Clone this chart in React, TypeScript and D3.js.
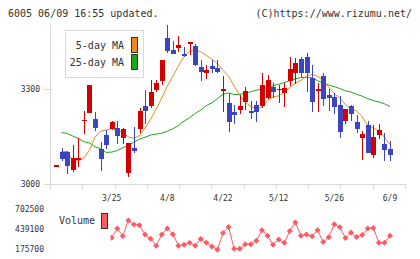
import * as d3 from 'd3';

const W = 420;
const H = 259;

// daily OHLC, one entry per trading day (index 0 .. 60)
const open = [
  3058, 3100, 3100, 3043, 3076, 3197, 3224, 3204, 3110, 3154,
  3174, 3176, 3145, 3035, 3113, 3173, 3245, 3245, 3296, 3324,
  3460, 3422, 3429, 3410, 3441, 3435, 3368, 3349, 3372, 3367,
  3296, 3254, 3226, 3234, 3259, 3230, 3249, 3245, 3272, 3306,
  3298, 3287, 3325, 3349, 3394, 3400, 3333, 3296, 3340, 3280,
  3275, 3249, 3199, 3245, 3195, 3145, 3185, 3091, 3154, 3125,
  3110,
];
const high = [
  3058, 3113, 3102, 3122, 3144, 3231, 3312, 3226, 3133, 3170,
  3199, 3200, 3177, 3130, 3178, 3241, 3296, 3327, 3327, 3391,
  3501, 3451, 3466, 3433, 3447, 3443, 3391, 3375, 3391, 3393,
  3340, 3288, 3249, 3282, 3307, 3261, 3261, 3350, 3343, 3320,
  3312, 3319, 3401, 3398, 3401, 3414, 3375, 3318, 3351, 3301,
  3287, 3277, 3236, 3249, 3217, 3166, 3198, 3185, 3189, 3160,
  3136,
];
const low = [
  3058, 3073, 3032, 3038, 3053, 3158, 3224, 3167, 3041, 3110,
  3170, 3127, 3125, 3022, 3098, 3159, 3190, 3238, 3291, 3312,
  3414, 3410, 3417, 3401, 3406, 3372, 3324, 3331, 3351, 3349,
  3227, 3164, 3190, 3220, 3234, 3206, 3196, 3239, 3267, 3272,
  3256, 3243, 3309, 3317, 3338, 3291, 3227, 3227, 3247, 3231,
  3219, 3145, 3189, 3199, 3162, 3075, 3096, 3080, 3141, 3073,
  3073,
];
const close = [
  3058, 3078, 3057, 3082, 3082, 3203, 3312, 3177, 3079, 3124,
  3196, 3152, 3173, 3129, 3104, 3230, 3230, 3291, 3319, 3391,
  3420, 3411, 3438, 3405, 3447, 3377, 3354, 3359, 3363, 3353,
  3299, 3196, 3218, 3245, 3293, 3226, 3227, 3312, 3327, 3291,
  3301, 3302, 3364, 3382, 3349, 3349, 3259, 3299, 3268, 3272,
  3243, 3164, 3236, 3220, 3173, 3157, 3098, 3147, 3170, 3106,
  3091,
];

const ma5 = [
  null, 3102, 3102, 3073, 3072, 3081, 3106, 3147, 3166, 3170,
  3174, 3170, 3162, 3148, 3144, 3152, 3176, 3204, 3236, 3271,
  3309, 3340, 3373, 3403, 3419, 3422, 3418, 3406, 3394, 3380,
  3359, 3340, 3309, 3280, 3258, 3244, 3238, 3242, 3263, 3275,
  3278, 3290, 3305, 3318, 3327, 3340, 3346, 3340, 3327, 3305,
  3285, 3271, 3250, 3237, 3230, 3212, 3185, 3176, 3168, 3147,
  3124,
];
const ma25 = [
  null, 3162, 3159, 3151, 3143, 3133, 3129, 3117, 3111, 3099,
  3100, 3105, 3114, 3121, 3132, 3141, 3147, 3154, 3157, 3160,
  3166, 3174, 3184, 3198, 3209, 3222, 3233, 3247, 3256, 3269,
  3283, 3287, 3282, 3283, 3286, 3291, 3296, 3299, 3305, 3310,
  3315, 3320, 3326, 3332, 3336, 3336, 3335, 3326, 3318, 3312,
  3307, 3301, 3294, 3290, 3283, 3277, 3269, 3263, 3259, 3253,
  3244,
];

// volume is shown from 3/25 (index 10) onwards
const VOL_START = 10;
const volume = [
  320200, 441800, 341800, 549900, 495800, 486400, 360800, 306700, 212200, 360800,
  441800, 364800, 212200, 225700, 252700, 212200, 301300, 252700, 202700, 158100,
  382400, 463400, 171600, 171600, 233800, 233800, 279700, 418800, 347300, 225700,
  297300, 252700, 409400, 522900, 347300, 360800, 337800, 418800, 260800, 324300,
  499900, 459400, 314800, 387800, 328300, 355400, 441800, 449900, 252700, 252700,
  347300,
];

const dateLabels = ['3/25', '4/8', '4/22', '5/12', '5/26', '6/9'];
const dateIndex = [10, 20, 30, 40, 50, 60];
const priceTicks = [3000, 3300];
const volTicks = [175700, 439100, 702500];

const UP = '#d40000';
const DOWN = '#3c44c0';
const ORANGE = '#f08a1a';
const GREEN = '#1aa81a';
const VOLC = '#ff5a64';
const AXIS = '#d9d9d9';
const TEXT = '#333';
const MONO = "'DejaVu Sans Mono', 'Liberation Mono', monospace";

export default function App() {
  const x = d3.scaleLinear().domain([0, 60]).range([56, 390]);
  const y = d3.scaleLinear().domain([3000, 3500]).range([183.7, 25.7]);
  const yv = d3.scaleLinear().domain([175700, 702500]).range([248.5, 209]);
  const grid = d3.scaleLinear().domain([0, 11]).range([50, 405]);

  const maLine = d3
    .line<number | null>()
    .defined((d) => d != null)
    .x((_, i) => x(i))
    .y((d) => y(d as number));

  const volLine = d3
    .line<number>()
    .x((_, i) => x(i + VOL_START))
    .y((d) => yv(d));

  const diamond = d3.symbol(d3.symbolSquare, 18)();
  const bw = 5;

  return (
    <svg
      width={W}
      height={H}
      style={{ position: 'fixed', left: 0, top: 0, background: '#fff' }}
      fontFamily={MONO}
    >
      <rect width={W} height={H} fill="#fff" />

      <text x={8} y={17} fontSize={10} fill={TEXT}>6005 06/09 16:55 updated.</text>
      <text x={412} y={17} fontSize={10} fill={TEXT} textAnchor="end">(C)https://www.rizumu.net/</text>

      {/* axes */}
      <g stroke={AXIS} shapeRendering="crispEdges">
        <line x1={50} x2={50} y1={25} y2={189} />
        <line x1={44} x2={406} y1={184} y2={184} />
        {d3.range(12).map((k) => (
          <line key={k} x1={Math.round(grid(k))} x2={Math.round(grid(k))} y1={184} y2={189} />
        ))}
        {priceTicks.map((p) => (
          <line key={p} x1={45} x2={53} y1={Math.round(y(p))} y2={Math.round(y(p))} />
        ))}
      </g>
      {priceTicks.map((p) => (
        <text key={p} x={40} y={y(p) + 3} fontSize={8} fill={TEXT} textAnchor="end">{p}</text>
      ))}
      {dateLabels.map((d, i) => (
        <text key={d} x={x(dateIndex[i])} y={201} fontSize={8} fill={TEXT} textAnchor="middle">{d}</text>
      ))}

      {/* moving averages */}
      <path d={maLine(ma25) ?? ''} fill="none" stroke={GREEN} strokeWidth={1} />
      <path d={maLine(ma5) ?? ''} fill="none" stroke={ORANGE} strokeWidth={1} />

      {/* candles */}
      <g shapeRendering="crispEdges">
        {open.map((o, i) => {
          const c = close[i];
          const col = c >= o ? UP : DOWN;
          const cx = Math.round(x(i));
          const top = y(Math.max(o, c));
          const bot = y(Math.min(o, c));
          return (
            <g key={i}>
              <line x1={cx + 0.5} x2={cx + 0.5} y1={y(high[i])} y2={y(low[i])} stroke={col} />
              <rect x={cx - 2} y={top} width={bw} height={Math.max(1.5, bot - top)} fill={col} />
            </g>
          );
        })}
      </g>

      {/* legend */}
      <rect x={65.5} y={30.5} width={78} height={47} fill="#fff" stroke={AXIS} />
      <text x={124} y={49} fontSize={10} fill={TEXT} textAnchor="end">5-day MA</text>
      <text x={124} y={66} fontSize={10} fill={TEXT} textAnchor="end">25-day MA</text>
      <rect x={131.5} y={37.5} width={6} height={15} fill={ORANGE} stroke="#333" />
      <rect x={131.5} y={54.5} width={6} height={15} fill={GREEN} stroke="#333" />

      {/* volume */}
      {volTicks.map((v) => (
        <text key={v} x={44} y={yv(v) + 3} fontSize={8} fill={TEXT} textAnchor="end">{v}</text>
      ))}
      <text x={59} y={224} fontSize={10} fill={TEXT}>Volume</text>
      <rect x={101.5} y={213.5} width={6} height={15} fill={VOLC} stroke="#333" />
      <clipPath id="volclip">
        <rect x={110.5} y={200} width={300} height={59} />
      </clipPath>
      <g clipPath="url(#volclip)">
        <path d={volLine(volume) ?? ''} fill="none" stroke={VOLC} strokeWidth={1} />
        {volume.map((v, i) => (
          <path
            key={i}
            d={diamond ?? ''}
            fill={VOLC}
            transform={`translate(${x(i + VOL_START)},${yv(v)}) rotate(45)`}
          />
        ))}
      </g>
    </svg>
  );
}
